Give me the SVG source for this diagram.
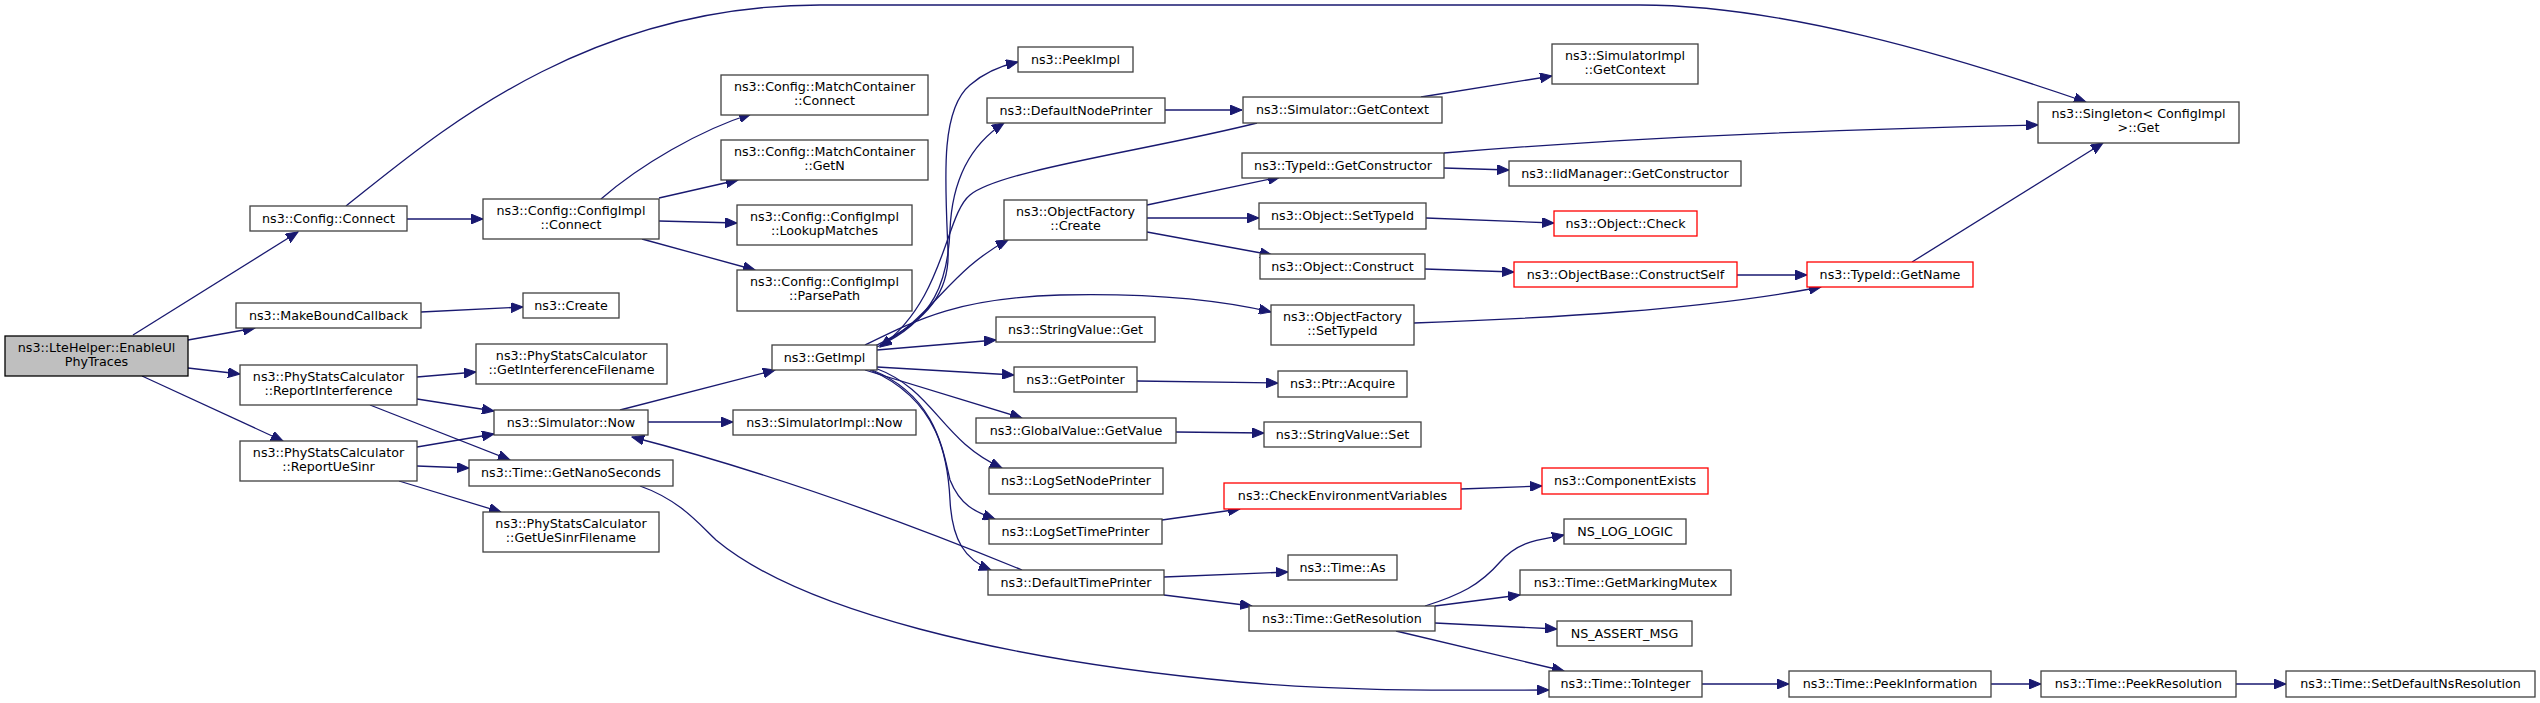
<svg xmlns="http://www.w3.org/2000/svg" width="2540" height="703" viewBox="0 0 2540 703">
<style>
rect{fill:#fff;stroke:#404040;stroke-width:1.3}
.root rect{fill:#bfbfbf;stroke:#000}
.red rect{stroke:#ff0000}
text{font-family:"DejaVu Sans","Liberation Sans",sans-serif;font-size:12.7px;text-anchor:middle;fill:#000}
.e path{fill:none;stroke:#191970;stroke-width:1.3;marker-end:url(#a)}
</style>
<defs>
<marker id="a" markerUnits="userSpaceOnUse" markerWidth="13" markerHeight="10" refX="12" refY="5" orient="auto" viewBox="0 0 13 10">
<path d="M0,0 L12,5 L0,10 z" fill="#191970" stroke="#191970" stroke-width="1"/>
</marker>
</defs>
<rect x="0" y="0" width="2540" height="703" style="fill:#fff;stroke:none"/>
<g class="e" id="edges">
<path d="M133,335 L298,232"/>
<path d="M188,340 L255,328"/>
<path d="M188,368 L240,374"/>
<path d="M142,376 L283,441"/>
<path d="M346,206 C430,140 580,5 820,5 L1640,5 C1780,5 1950,55 2086,102"/>
<path d="M407,219 L483,219"/>
<path d="M421,312 L523,307"/>
<path d="M417,377 L476,372"/>
<path d="M417,399 L494,411"/>
<path d="M370,405 L510,460"/>
<path d="M417,447 L494,434"/>
<path d="M417,466 L469,468"/>
<path d="M399,481 L501,512"/>
<path d="M601,199 C640,165 700,130 751,114"/>
<path d="M659,198 L738,180"/>
<path d="M659,221 L737,223"/>
<path d="M642,239 L755,270"/>
<path d="M620,410 L775,370"/>
<path d="M648,422 L733,422"/>
<path d="M1022,570 C900,520 760,470 632,437"/>
<path d="M640,486 C680,500 700,525 716,540 C800,610 1000,660 1240,682 C1350,692 1450,690 1549,690"/>
<path d="M875,346 C930,320 950,290 948,250 C945,180 940,110 970,85 C985,72 1000,66 1018,62"/>
<path d="M877,347 C935,320 948,280 950,230 C952,180 970,145 1004,123"/>
<path d="M865,345 C920,318 960,298 1060,295 C1150,293 1220,300 1271,312"/>
<path d="M877,350 L996,340"/>
<path d="M880,345 C930,320 950,270 1008,240"/>
<path d="M1257,123 C1150,150 1000,170 970,195 C945,215 945,300 880,347"/>
<path d="M877,367 L1014,375"/>
<path d="M865,370 L1022,418"/>
<path d="M875,368 C935,390 940,440 1002,468"/>
<path d="M872,370 C935,395 943,450 950,480 C960,505 975,512 995,519"/>
<path d="M870,370 C940,400 948,460 950,500 C952,540 965,560 991,570"/>
<path d="M1147,205 L1280,177"/>
<path d="M1147,218 L1259,218"/>
<path d="M1147,232 L1272,255"/>
<path d="M1165,110 L1242,110"/>
<path d="M1421,97 L1552,76"/>
<path d="M1444,168 L1509,170"/>
<path d="M1444,153 C1600,140 1800,130 2038,125"/>
<path d="M1426,218 L1554,223"/>
<path d="M1425,269 L1514,272"/>
<path d="M1737,275 L1807,275"/>
<path d="M1414,323 C1550,318 1700,310 1821,287"/>
<path d="M1912,262 L2103,143"/>
<path d="M1137,381 L1278,383"/>
<path d="M1176,432 L1264,433"/>
<path d="M1162,520 L1240,509"/>
<path d="M1461,489 L1542,486"/>
<path d="M1164,577 L1288,572"/>
<path d="M1164,595 L1252,606"/>
<path d="M1425,606 C1460,595 1480,585 1500,562 C1520,540 1540,540 1564,535"/>
<path d="M1435,606 L1520,595"/>
<path d="M1435,623 L1557,629"/>
<path d="M1396,631 L1564,671"/>
<path d="M1702,684 L1789,684"/>
<path d="M1991,684 L2041,684"/>
<path d="M2236,684 L2286,684"/>
</g>
<g id="lte" class="root"><rect x="5" y="336" width="183" height="40"/><text x="96.5" y="352">ns3::LteHelper::EnableUl</text><text x="96.5" y="366">PhyTraces</text></g>
<g id="cfgconnect"><rect x="250" y="206" width="157" height="25"/><text x="328.5" y="222.5">ns3::Config::Connect</text></g>
<g id="cfgimplconnect"><rect x="483" y="199" width="176" height="40"/><text x="571" y="215">ns3::Config::ConfigImpl</text><text x="571" y="229">::Connect</text></g>
<g id="makebound"><rect x="236" y="303" width="185" height="25"/><text x="328.5" y="319.5">ns3::MakeBoundCallback</text></g>
<g id="create"><rect x="523" y="293" width="96" height="25"/><text x="571" y="309.5">ns3::Create</text></g>
<g id="reportinterf"><rect x="240" y="365" width="177" height="40"/><text x="328.5" y="381">ns3::PhyStatsCalculator</text><text x="328.5" y="395">::ReportInterference</text></g>
<g id="reportuesinr"><rect x="240" y="441" width="177" height="40"/><text x="328.5" y="457">ns3::PhyStatsCalculator</text><text x="328.5" y="471">::ReportUeSinr</text></g>
<g id="getinterffilename"><rect x="476" y="344" width="191" height="40"/><text x="571.5" y="360">ns3::PhyStatsCalculator</text><text x="571.5" y="374">::GetInterferenceFilename</text></g>
<g id="simnow"><rect x="494" y="410" width="154" height="25"/><text x="571" y="426.5">ns3::Simulator::Now</text></g>
<g id="getnano"><rect x="469" y="460" width="204" height="26"/><text x="571" y="477">ns3::Time::GetNanoSeconds</text></g>
<g id="getuesinrfilename"><rect x="483" y="512" width="176" height="40"/><text x="571" y="528">ns3::PhyStatsCalculator</text><text x="571" y="542">::GetUeSinrFilename</text></g>
<g id="mcconnect"><rect x="721" y="75" width="207" height="40"/><text x="824.5" y="91">ns3::Config::MatchContainer</text><text x="824.5" y="105">::Connect</text></g>
<g id="mcgetn"><rect x="721" y="140" width="207" height="40"/><text x="824.5" y="156">ns3::Config::MatchContainer</text><text x="824.5" y="170">::GetN</text></g>
<g id="lookup"><rect x="737" y="205" width="175" height="40"/><text x="824.5" y="221">ns3::Config::ConfigImpl</text><text x="824.5" y="235">::LookupMatches</text></g>
<g id="parsepath"><rect x="737" y="270" width="175" height="41"/><text x="824.5" y="286">ns3::Config::ConfigImpl</text><text x="824.5" y="300">::ParsePath</text></g>
<g id="getimpl"><rect x="772" y="345" width="105" height="25"/><text x="824.5" y="361.5">ns3::GetImpl</text></g>
<g id="simimplnow"><rect x="733" y="410" width="183" height="25"/><text x="824.5" y="426.5">ns3::SimulatorImpl::Now</text></g>
<g id="peekimpl"><rect x="1018" y="47" width="115" height="25"/><text x="1075.5" y="63.5">ns3::PeekImpl</text></g>
<g id="defnodeprinter"><rect x="987" y="98" width="178" height="25"/><text x="1076" y="114.5">ns3::DefaultNodePrinter</text></g>
<g id="ofcreate"><rect x="1004" y="200" width="143" height="40"/><text x="1075.5" y="216">ns3::ObjectFactory</text><text x="1075.5" y="230">::Create</text></g>
<g id="svget"><rect x="996" y="317" width="159" height="25"/><text x="1075.5" y="333.5">ns3::StringValue::Get</text></g>
<g id="getpointer"><rect x="1014" y="367" width="123" height="25"/><text x="1075.5" y="383.5">ns3::GetPointer</text></g>
<g id="gvgetvalue"><rect x="976" y="418" width="200" height="25"/><text x="1076" y="434.5">ns3::GlobalValue::GetValue</text></g>
<g id="logsetnode"><rect x="989" y="468" width="174" height="26"/><text x="1076" y="485">ns3::LogSetNodePrinter</text></g>
<g id="logsettime"><rect x="989" y="519" width="173" height="25"/><text x="1075.5" y="535.5">ns3::LogSetTimePrinter</text></g>
<g id="deftimeprinter"><rect x="988" y="570" width="176" height="25"/><text x="1076" y="586.5">ns3::DefaultTimePrinter</text></g>
<g id="simgetcontext"><rect x="1243" y="97" width="199" height="26"/><text x="1342.5" y="114">ns3::Simulator::GetContext</text></g>
<g id="simimplgetcontext"><rect x="1552" y="44" width="146" height="40"/><text x="1625" y="60">ns3::SimulatorImpl</text><text x="1625" y="74">::GetContext</text></g>
<g id="typeidgetctor"><rect x="1242" y="153" width="202" height="25"/><text x="1343" y="169.5">ns3::TypeId::GetConstructor</text></g>
<g id="iidgetctor"><rect x="1509" y="161" width="232" height="25"/><text x="1625" y="177.5">ns3::IidManager::GetConstructor</text></g>
<g id="objsettypeid"><rect x="1259" y="203" width="167" height="26"/><text x="1342.5" y="220">ns3::Object::SetTypeId</text></g>
<g id="objcheck" class="red"><rect x="1554" y="211" width="143" height="25"/><text x="1625.5" y="227.5">ns3::Object::Check</text></g>
<g id="objconstruct"><rect x="1260" y="254" width="165" height="25"/><text x="1342.5" y="270.5">ns3::Object::Construct</text></g>
<g id="constructself" class="red"><rect x="1514" y="262" width="223" height="25"/><text x="1625.5" y="278.5">ns3::ObjectBase::ConstructSelf</text></g>
<g id="getname" class="red"><rect x="1807" y="262" width="166" height="25"/><text x="1890" y="278.5">ns3::TypeId::GetName</text></g>
<g id="ofsettypeid"><rect x="1271" y="305" width="143" height="40"/><text x="1342.5" y="321">ns3::ObjectFactory</text><text x="1342.5" y="335">::SetTypeId</text></g>
<g id="singleton"><rect x="2038" y="102" width="201" height="41"/><text x="2138.5" y="118">ns3::Singleton&lt; ConfigImpl</text><text x="2138.5" y="132"> &gt;::Get</text></g>
<g id="ptracquire"><rect x="1278" y="371" width="129" height="26"/><text x="1342.5" y="388">ns3::Ptr::Acquire</text></g>
<g id="svset"><rect x="1264" y="422" width="157" height="25"/><text x="1342.5" y="438.5">ns3::StringValue::Set</text></g>
<g id="checkenv" class="red"><rect x="1224" y="483" width="237" height="26"/><text x="1342.5" y="500">ns3::CheckEnvironmentVariables</text></g>
<g id="compexists" class="red"><rect x="1542" y="468" width="166" height="26"/><text x="1625" y="485">ns3::ComponentExists</text></g>
<g id="nsloglogic"><rect x="1564" y="519" width="122" height="25"/><text x="1625" y="535.5">NS_LOG_LOGIC</text></g>
<g id="timeas"><rect x="1288" y="555" width="109" height="25"/><text x="1342.5" y="571.5">ns3::Time::As</text></g>
<g id="markingmutex"><rect x="1520" y="570" width="211" height="25"/><text x="1625.5" y="586.5">ns3::Time::GetMarkingMutex</text></g>
<g id="getresolution"><rect x="1249" y="606" width="186" height="25"/><text x="1342" y="622.5">ns3::Time::GetResolution</text></g>
<g id="nsassert"><rect x="1557" y="621" width="135" height="25"/><text x="1624.5" y="637.5">NS_ASSERT_MSG</text></g>
<g id="tointeger"><rect x="1549" y="671" width="153" height="26"/><text x="1625.5" y="688">ns3::Time::ToInteger</text></g>
<g id="peekinfo"><rect x="1789" y="671" width="202" height="26"/><text x="1890" y="688">ns3::Time::PeekInformation</text></g>
<g id="peekres"><rect x="2041" y="671" width="195" height="26"/><text x="2138.5" y="688">ns3::Time::PeekResolution</text></g>
<g id="setdefns"><rect x="2286" y="671" width="249" height="26"/><text x="2410.5" y="688">ns3::Time::SetDefaultNsResolution</text></g>
</svg>
